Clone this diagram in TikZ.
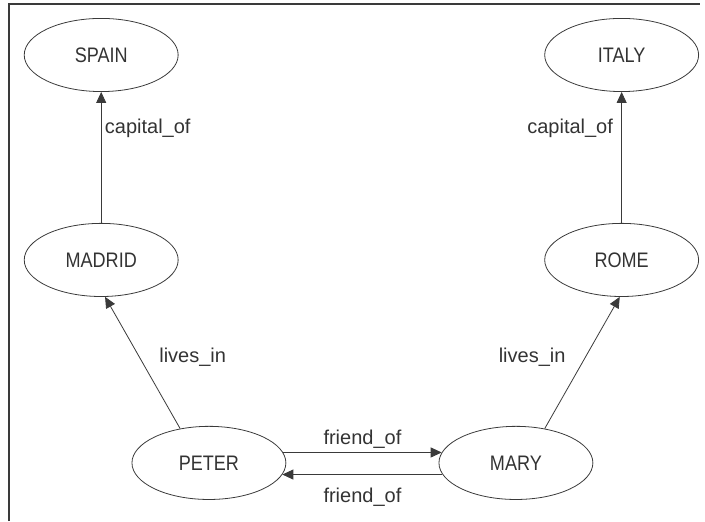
\documentclass[tikz,border=0pt]{standalone}
\usepackage{fontspec}
\setmainfont{Liberation Sans}
\newfontfamily\placefont[FakeStretch=0.86]{Liberation Sans}
\usepackage{xcolor}
\usetikzlibrary{arrows.meta,shapes.geometric,positioning}
\definecolor{linegray}{HTML}{3A3A3A}
\definecolor{textgray}{HTML}{333333}

\begin{document}
\begin{tikzpicture}[
  place/.style={draw=linegray, line width=0.8pt, ellipse, inner sep=0pt,
    minimum width=5.43cm, minimum height=2.58cm,
    font=\placefont\fontsize{21bp}{25bp}\selectfont, text=textgray},
  rel/.style={draw=linegray, line width=0.8pt, -{Triangle[length=11bp,width=10bp]}},
  lbl/.style={font=\fontsize{20bp}{24bp}\selectfont, text=textgray}
]
  \useasboundingbox (0,0) rectangle (24.87,18.38);
  \draw [line width=1.2pt, linegray] (0.32,0) |- (24.69,18.24);
  \foreach \n/\x/\y in {SPAIN/3.57/16.44, ITALY/21.93/16.44, MADRID/3.57/9.21,
                        ROME/21.93/9.21, PETER/7.37/2.05, MARY/18.20/2.05} {
    \node [place] (\n) at (\x,\y) {\n};
  }
  \draw [rel] (MADRID) -- node[lbl, right, pos=0.72] {capital\_of} (SPAIN);
  \draw [rel] (ROME) -- node[lbl, left=5bp, pos=0.72] {capital\_of} (ITALY);
  \draw [rel] (PETER.130) -- node[lbl, right=16bp, pos=0.54] {lives\_in} (MADRID.276);
  \draw [rel] (MARY.50) -- node[lbl, left=16bp, pos=0.54] {lives\_in} (ROME.267);
  \draw [rel] (PETER.8) -- node[lbl, above] {friend\_of} (MARY.172);
  \draw [rel] (MARY.189) -- node[lbl, below=10bp] {friend\_of} (PETER.-9);
\end{tikzpicture}
\end{document}
